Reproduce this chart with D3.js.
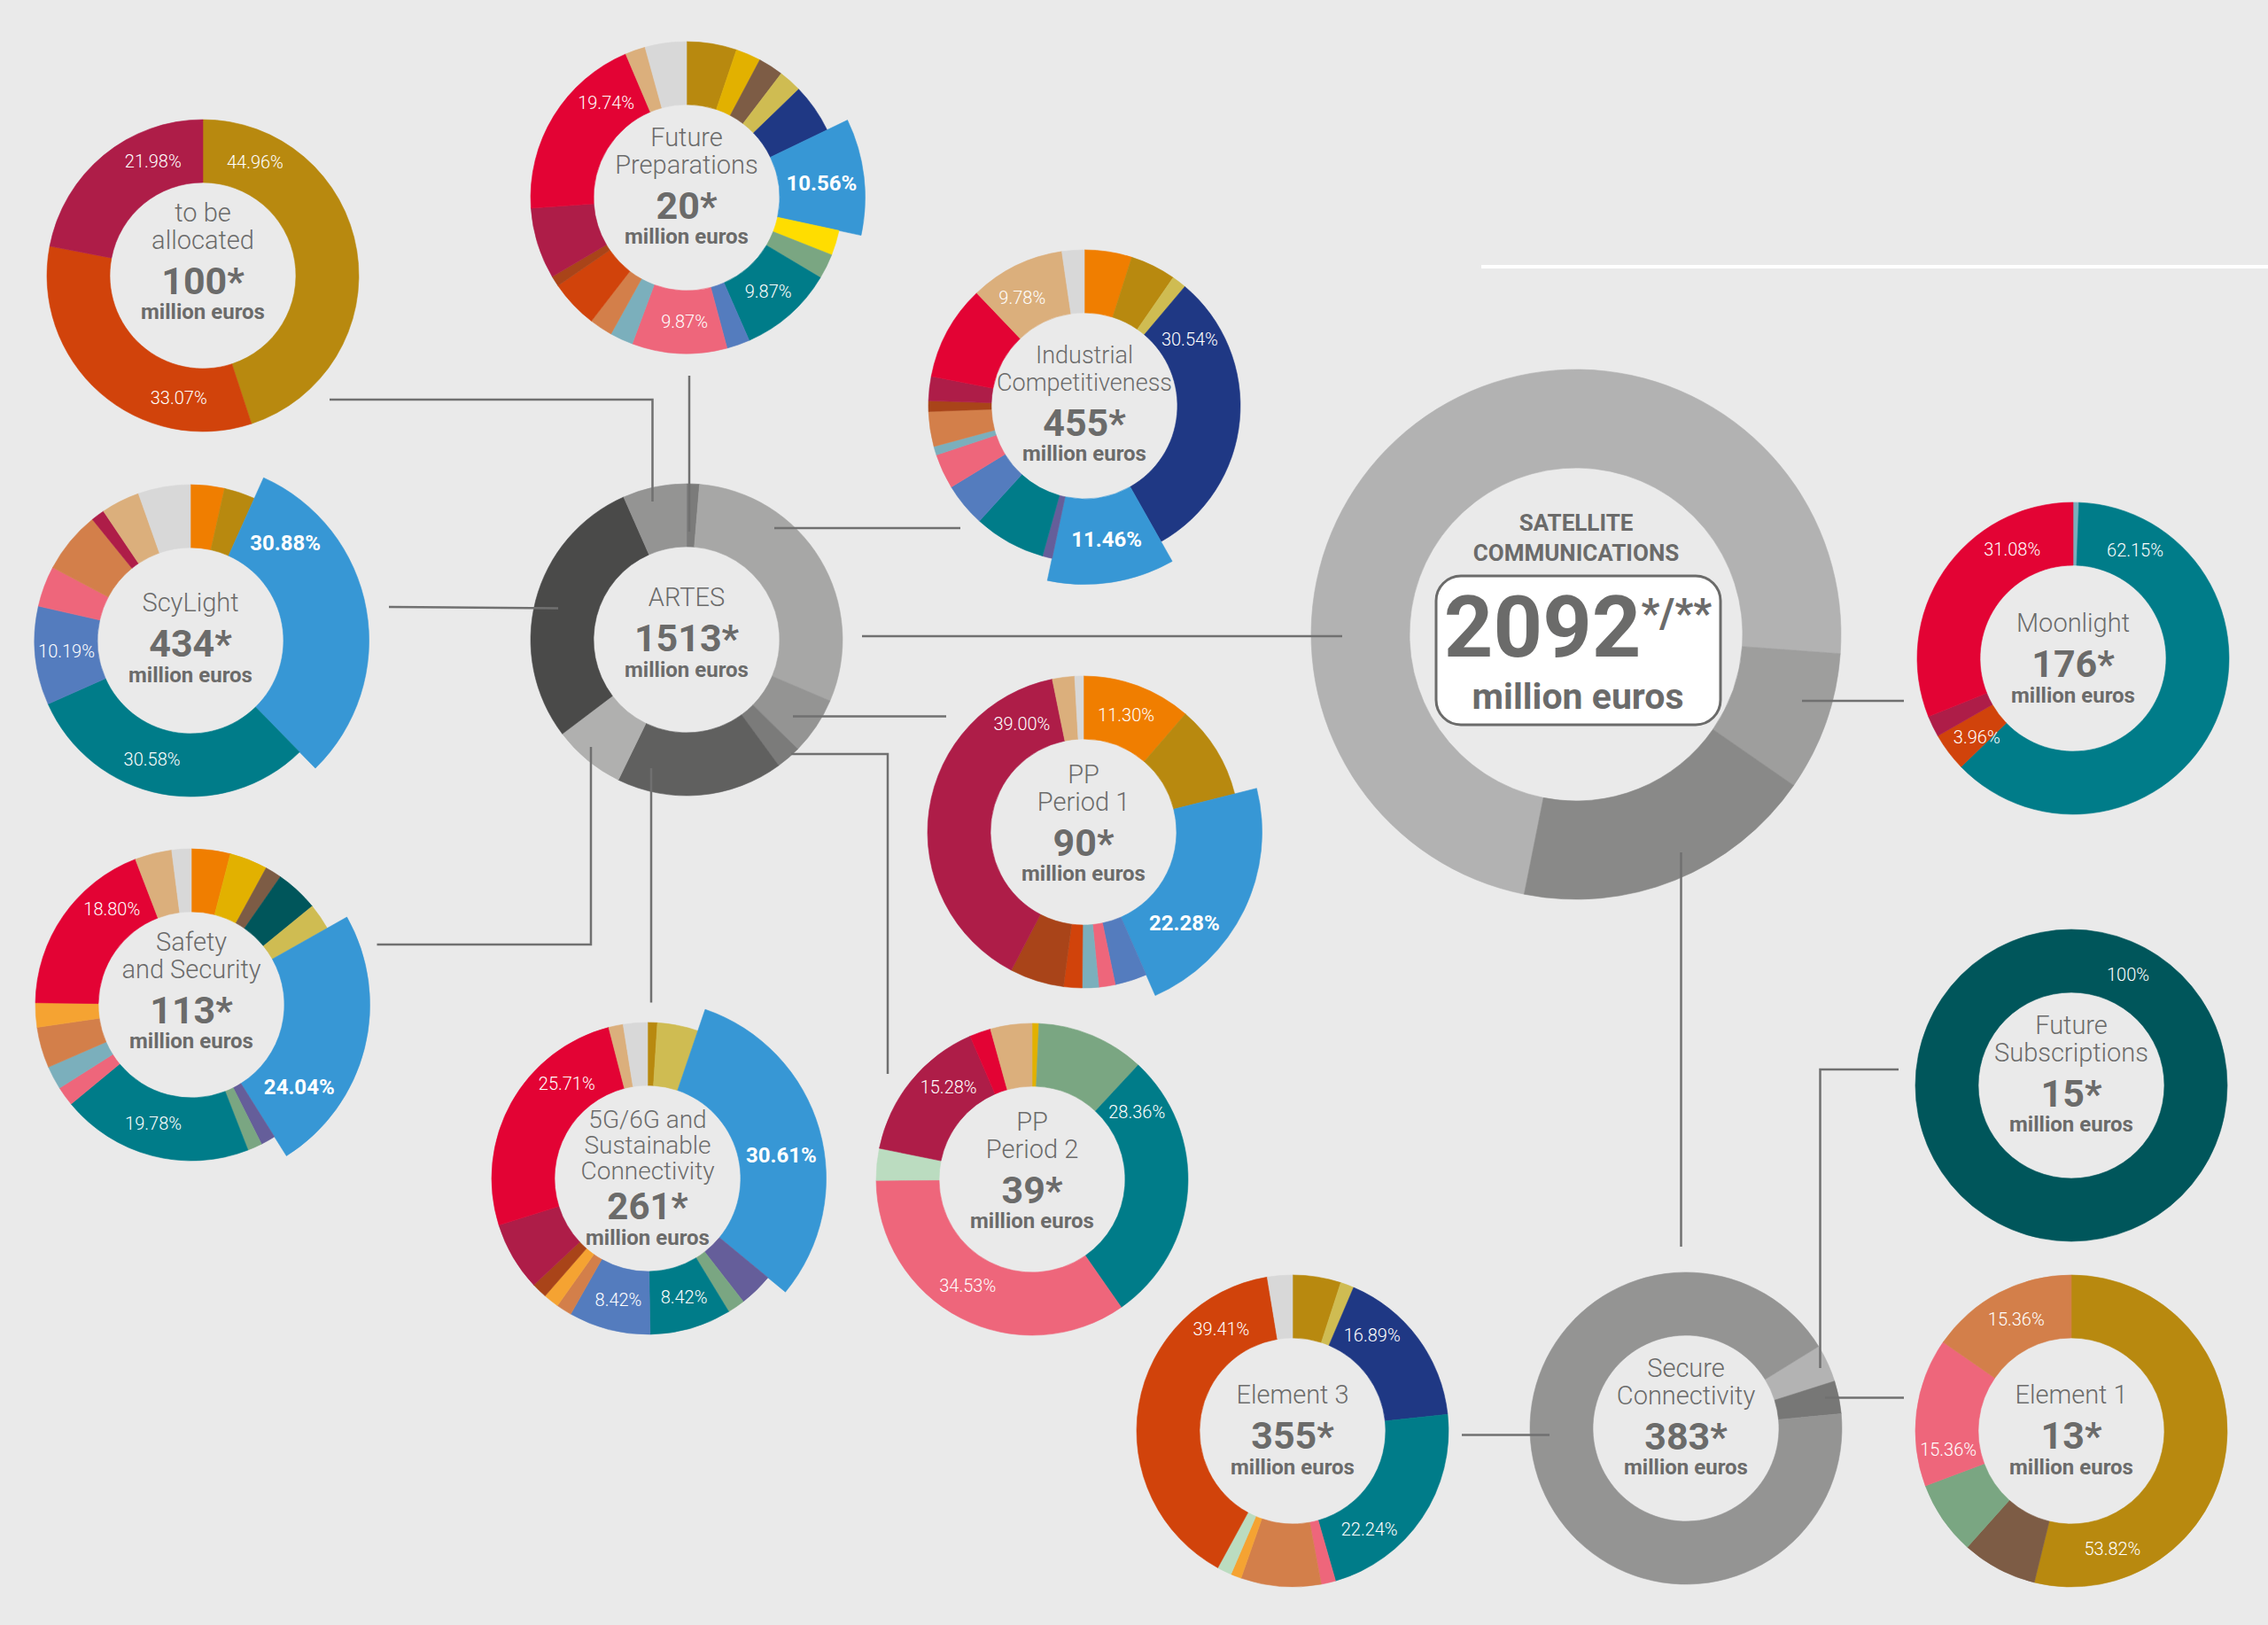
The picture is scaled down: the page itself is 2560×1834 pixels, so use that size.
<!DOCTYPE html>
<html>
<head>
<meta charset="utf-8">
<title>Satellite Communications budget</title>
<script src="https://cdn.jsdelivr.net/npm/d3@7"></script>
<style>
  html, body { margin: 0; padding: 0; background: #eaeaea; }
  svg { display: block; }
</style>
</head>
<body>
<svg id="chart" width="2560" height="1834"></svg>
<script>
// ---- data ----------------------------------------------------------
// programmes and their budgets (million euros)
var programmes = ["to be allocated", "Future Preparations", "Industrial Competitiveness", "ScyLight",
  "Safety and Security", "5G/6G and Sustainable Connectivity", "PP Period 1", "PP Period 2",
  "Moonlight", "Future Subscriptions", "Element 1", "Element 3", "ARTES", "Secure Connectivity",
  "SATELLITE COMMUNICATIONS"];
var budgets = [100, 20, 455, 434, 113, 261, 90, 39, 176, 15, 13, 355, 1513, 383, 2092];

// colour categories shared by the coloured donuts
var categories = ["gold", "yellowgold", "brown", "khaki", "navy", "blue", "yellow", "sage", "teal",
  "periwinkle", "pink", "lightteal", "peach", "orangered", "rust", "crimson", "red", "tan", "grey",
  "orange", "darkteal", "lightorange", "purple", "lightgreen"];

// shares in percent, clockwise from 12 o'clock
var allocatedCats = ["gold", "orangered", "crimson"];
var allocatedVals = [44.96, 33.07, 21.98];

var futurePrepCats = ["gold", "yellowgold", "brown", "khaki", "navy", "blue", "yellow", "sage", "teal",
  "periwinkle", "pink", "lightteal", "peach", "orangered", "rust", "crimson", "red", "tan", "grey"];
var futurePrepVals = [5.2, 2.6, 2.6, 2.4, 5.1, 10.56, 2.6, 2.6, 9.87, 2.4, 9.87, 2.4, 2.4, 5.0, 1.1, 7.4, 19.74, 2.1, 4.3];

var industrialCats = ["orange", "gold", "khaki", "navy", "blue", "purple", "teal", "periwinkle", "pink",
  "lightteal", "peach", "rust", "crimson", "red", "tan", "grey"];
var industrialVals = [4.9, 4.7, 1.5, 30.54, 11.46, 1.0, 7.4, 4.5, 3.6, 0.9, 3.6, 1.1, 2.5, 9.8, 9.78, 2.3];

var scylightCats = ["orange", "gold", "blue", "teal", "periwinkle", "pink", "peach", "crimson", "tan", "grey"];
var scylightVals = [3.5, 3.2, 30.88, 30.58, 10.19, 4.2, 6.4, 1.4, 4.0, 5.4];

var safetyCats = ["orange", "yellowgold", "brown", "darkteal", "khaki", "blue", "purple", "sage", "teal",
  "pink", "lightteal", "peach", "lightorange", "red", "tan", "grey"];
var safetyVals = [4.0, 3.9, 1.7, 4.4, 2.7, 24.04, 1.5, 1.5, 19.78, 2.0, 2.4, 4.2, 2.5, 18.80, 3.8, 2.0];

var fiveGCats = ["gold", "khaki", "blue", "purple", "sage", "teal", "periwinkle", "peach", "lightorange",
  "rust", "crimson", "red", "tan", "grey"];
var fiveGVals = [1.0, 4.2, 30.61, 3.5, 1.8, 8.42, 8.42, 1.6, 1.6, 1.6, 7.1, 25.71, 1.5, 2.5];

var pp1Cats = ["orange", "gold", "blue", "periwinkle", "pink", "lightteal", "orangered", "rust", "crimson", "tan", "grey"];
var pp1Vals = [11.30, 9.7, 22.28, 3.3, 1.7, 1.7, 1.9, 5.6, 39.00, 2.3, 0.9];

var pp2Cats = ["yellowgold", "sage", "teal", "pink", "lightgreen", "crimson", "red", "tan"];
var pp2Vals = [0.7, 11.2, 28.36, 34.53, 3.3, 15.28, 2.2, 4.3];

var moonlightCats = ["lightteal", "teal", "orangered", "crimson", "red"];
var moonlightVals = [0.6, 62.15, 3.96, 2.2, 31.08];

var futureSubsCats = ["darkteal"];
var futureSubsVals = [100];

var element1Cats = ["gold", "brown", "sage", "pink", "peach"];
var element1Vals = [53.82, 7.8, 7.66, 15.36, 15.36];

var element3Cats = ["gold", "khaki", "navy", "teal", "pink", "peach", "lightorange", "lightgreen", "orangered", "grey"];
var element3Vals = [5.0, 1.4, 16.89, 22.24, 1.5, 8.3, 1.1, 1.5, 39.41, 2.6];

// grey aggregate donuts (million euros)
var artesCats = ["Future Preparations", "Industrial Competitiveness", "PP Period 1", "PP Period 2",
  "5G/6G and Sustainable Connectivity", "Safety and Security", "ScyLight", "to be allocated"];
var artesVals = [20, 455, 90, 39, 261, 113, 434, 100];

var satcomCats = ["ARTES", "Moonlight", "Secure Connectivity"];
var satcomVals = [1513, 176, 383];

var secureCats = ["Future Subscriptions", "Element 1", "Element 3"];
var secureVals = [15, 13, 355];

// ---- styles --------------------------------------------------------
var bg = "#eaeaea";
var ink = "#6b6b6a";
var palette = ["#b8890f", "#e2b100", "#7d5c45", "#cfbc52", "#1f3884", "#3797d5", "#ffdd00", "#7aa682",
  "#007c89", "#547cbe", "#ee667b", "#7bafbc", "#d37f4a", "#d1430b", "#a94419", "#ae1d48", "#e30334",
  "#dbaf7c", "#d8d8d8", "#f07e00", "#00565b", "#f5a332", "#655e9a", "#bbdcc0"];
var colour = d3.scaleOrdinal().domain(categories).range(palette);
var artesGrey = d3.scaleOrdinal().domain(artesCats)
  .range(["#7b7b7a", "#a7a7a6", "#949493", "#7b7b7a", "#60605f", "#b0b0af", "#4a4a49", "#949493"]);
var satcomGrey = d3.scaleOrdinal().domain(satcomCats).range(["#b2b2b2", "#9e9e9d", "#898988"]);
var secureGrey = d3.scaleOrdinal().domain(secureCats).range(["#b3b3b3", "#777776", "#949493"]);

var lightFont = "Roboto, 'Liberation Sans', sans-serif";

// ---- layout (pixel positions, label angles in degrees) ---------------
var R0 = 105, R1 = 176, BURST = 1.145;
var charts = [
  { name: "to be allocated", cats: allocatedCats, vals: allocatedVals, cx: 229, cy: 311, title: ["to be", "allocated"], dy: -3,
    labels: [[0, 24.8], [1, 191.2], [2, 336.4]] },
  { name: "Future Preparations", cats: futurePrepCats, vals: futurePrepVals, cx: 775, cy: 223, title: ["Future", "Preparations"], dy: 0,
    labels: [[16, 319.7], [5, 83.9], [8, 139], [10, 181]] },
  { name: "Industrial Competitiveness", cats: industrialCats, vals: industrialVals, cx: 1224, cy: 458, title: ["Industrial", "Competitiveness"], dy: 10, titleSize: 27,
    labels: [[14, 330], [3, 57.8], [4, 170.6]] },
  { name: "ScyLight", cats: scylightCats, vals: scylightVals, cx: 215, cy: 723, title: ["ScyLight"], dy: -2,
    labels: [[2, 44.3], [4, 265.2], [3, 198]] },
  { name: "Safety and Security", cats: safetyCats, vals: safetyVals, cx: 216, cy: 1134, title: ["Safety", "and Security"], dy: -3,
    labels: [[13, 320.3], [5, 127.4], [8, 197.8]] },
  { name: "5G/6G and Sustainable Connectivity", cats: fiveGCats, vals: fiveGVals, cx: 731, cy: 1330, title: ["5G/6G and", "Sustainable", "Connectivity"], dy: 0,
    titleSize: 28, valueSize: 42, labels: [[11, 319.5], [2, 80.1], [6, 193.6], [5, 163]] },
  { name: "PP Period 1", cats: pp1Cats, vals: pp1Vals, cx: 1223, cy: 939, title: ["PP", "Period 1"], dy: 3,
    labels: [[8, 330.3], [0, 20], [2, 132]] },
  { name: "PP Period 2", cats: pp2Cats, vals: pp2Vals, cx: 1165, cy: 1331, title: ["PP", "Period 2"], dy: 3,
    labels: [[5, 317.8], [2, 57.3], [3, 211.2]] },
  { name: "Moonlight", cats: moonlightCats, vals: moonlightVals, cx: 2340, cy: 743, title: ["Moonlight"], dy: 1,
    labels: [[4, 330.7], [1, 29.9], [2, 230.7]] },
  { name: "Future Subscriptions", cats: futureSubsCats, vals: futureSubsVals, cx: 2338, cy: 1225, title: ["Future", "Subscriptions"], dy: 0,
    labels: [[0, 27.1]] },
  { name: "Element 1", cats: element1Cats, vals: element1Vals, cx: 2338, cy: 1615, title: ["Element 1"], dy: 0,
    labels: [[4, 333.7], [3, 261.3], [0, 160.7]] },
  { name: "Element 3", cats: element3Cats, vals: element3Vals, cx: 1459, cy: 1615, title: ["Element 3"], dy: 0,
    labels: [[8, 325], [2, 39.7], [3, 141.9]] },
  { name: "ARTES", cats: artesCats, vals: artesVals, cx: 775, cy: 722, title: ["ARTES"], dy: -7, grey: artesGrey, labels: [] },
  { name: "Secure Connectivity", cats: secureCats, vals: secureVals, cx: 1903, cy: 1612, title: ["Secure", "Connectivity"], dy: 0,
    grey: secureGrey, start: 58.3, labels: [] }
];

// connector lines
var connectors = [
  [[372, 451], [736.5, 451], [736.5, 566]],
  [[778, 424], [778, 600]],
  [[1084, 596], [874, 596]],
  [[439, 685], [630, 686.5]],
  [[895, 808.5], [1068, 808.5]],
  [[893, 851], [1002, 851], [1002, 1212]],
  [[425.5, 1066], [667, 1066], [667, 843]],
  [[735, 1131.5], [735, 867]],
  [[973, 718], [1515, 718]],
  [[2034, 791], [2149, 791]],
  [[1897.5, 962], [1897.5, 1407]],
  [[1650, 1619.5], [1749, 1619.5]],
  [[2060, 1577.5], [2149, 1577.5]],
  [[2054.5, 1544], [2054.5, 1207], [2143, 1207]]
];

// ---- drawing -------------------------------------------------------
var svg = d3.select("#chart");
svg.append("rect").attr("width", 2560).attr("height", 1834).attr("fill", bg);

// white rule, top right
svg.append("line").attr("x1", 1672).attr("x2", 2560).attr("y1", 301).attr("y2", 301)
  .attr("stroke", "#ffffff").attr("stroke-width", 4);

var rad = Math.PI / 180;
var pct = function (v) { return v === 100 ? "100%" : d3.format(".2f")(v) + "%"; };

function drawDonut(spec, r0, r1) {
  var g = svg.append("g").attr("transform", "translate(" + spec.cx + "," + spec.cy + ")");
  var a0 = (spec.start || 0) * rad;
  var fill = spec.grey || colour;
  var rows = spec.cats.map(function (c, i) { return { c: c, v: spec.vals[i] }; });
  var arcs = d3.pie().sort(null).value(function (d) { return d.v; })
    .startAngle(a0).endAngle(a0 + 2 * Math.PI)(rows);
  var arc = d3.arc().innerRadius(r0)
    .outerRadius(function (d) { return d.data.c === "blue" ? r1 * BURST : r1; });

  g.selectAll("path.slice").data(arcs).enter().append("path")
    .attr("class", "slice")
    .attr("d", arc)
    .attr("fill", function (d) { return fill(d.data.c); })
    .attr("stroke", function (d) { return fill(d.data.c); })
    .attr("stroke-width", 0.6);

  // percentage labels
  (spec.labels || []).forEach(function (l) {
    var d = arcs[l[0]];
    var big = d.data.c === "blue";
    var r = big ? (r0 + r1 * BURST) / 2 : (r0 + r1) / 2;
    var p = d3.arc().innerRadius(r).outerRadius(r).centroid({ startAngle: l[1] * rad, endAngle: l[1] * rad });
    g.append("text")
      .attr("x", p[0]).attr("y", p[1])
      .attr("text-anchor", "middle").attr("dominant-baseline", "central")
      .attr("fill", "#ffffff")
      .attr("font-family", lightFont)
      .attr("font-weight", big ? 700 : 300)
      .attr("font-size", big ? 24 : 20)
      .text(pct(d.data.v));
  });
  return g;
}

function drawCentre(g, spec) {
  var n = spec.title.length;
  var titleY = n === 1 ? [-31] : n === 2 ? [-58, -27] : [-57, -28, 1];
  var valueY = n === 1 ? 20 : n === 2 ? 24 : 46;
  var unitY = n === 1 ? 49 : n === 2 ? 52 : 75;
  var dy = spec.dy || 0;
  var total = budgets[programmes.indexOf(spec.name)];
  spec.title.forEach(function (t, i) {
    g.append("text").attr("x", 0).attr("y", titleY[i] + dy)
      .attr("text-anchor", "middle").attr("fill", ink)
      .attr("font-family", lightFont).attr("font-weight", 300)
      .attr("font-size", spec.titleSize || 29).text(t);
  });
  g.append("text").attr("x", 0).attr("y", valueY + dy)
    .attr("text-anchor", "middle").attr("fill", ink)
    .attr("font-family", lightFont).attr("font-weight", 700)
    .attr("font-size", spec.valueSize || 43).text(total + "*");
  g.append("text").attr("x", 0).attr("y", unitY + dy)
    .attr("text-anchor", "middle").attr("fill", ink)
    .attr("font-family", lightFont).attr("font-weight", 700)
    .attr("font-size", 24).text("million euros");
}

charts.forEach(function (spec) {
  var g = drawDonut(spec, R0, R1);
  drawCentre(g, spec);
});

// big satellite communications donut
var sat = drawDonut({ name: "SATELLITE COMMUNICATIONS", cats: satcomCats, vals: satcomVals,
  cx: 1779, cy: 716, grey: satcomGrey, start: -168.7, labels: [] }, 188, 299);
var satTotal = budgets[programmes.indexOf("SATELLITE COMMUNICATIONS")];
["SATELLITE", "COMMUNICATIONS"].forEach(function (t, i) {
  sat.append("text").attr("x", 0).attr("y", i === 0 ? -117 : -83)
    .attr("text-anchor", "middle").attr("fill", ink)
    .attr("font-family", lightFont).attr("font-weight", 700)
    .attr("font-size", 26).text(t);
});
sat.append("rect").attr("x", -158).attr("y", -66).attr("width", 321).attr("height", 168)
  .attr("rx", 28).attr("ry", 28)
  .attr("fill", "#ffffff").attr("stroke", ink).attr("stroke-width", 3);
var big = sat.append("text").attr("x", 2).attr("y", 25)
  .attr("text-anchor", "middle").attr("fill", ink)
  .attr("font-family", lightFont).attr("font-weight", 700);
big.append("tspan").attr("font-size", 97).text(satTotal);
big.append("tspan").attr("font-size", 46).attr("dy", -33).text("*/**");
sat.append("text").attr("x", 2).attr("y", 84)
  .attr("text-anchor", "middle").attr("fill", ink)
  .attr("font-family", lightFont).attr("font-weight", 700)
  .attr("font-size", 41).text("million euros");

// connectors on top
var line = d3.line();
svg.append("g").selectAll("path").data(connectors).enter().append("path")
  .attr("d", line)
  .attr("fill", "none")
  .attr("stroke", "#707070")
  .attr("stroke-width", 2.5);
</script>
</body>
</html>
